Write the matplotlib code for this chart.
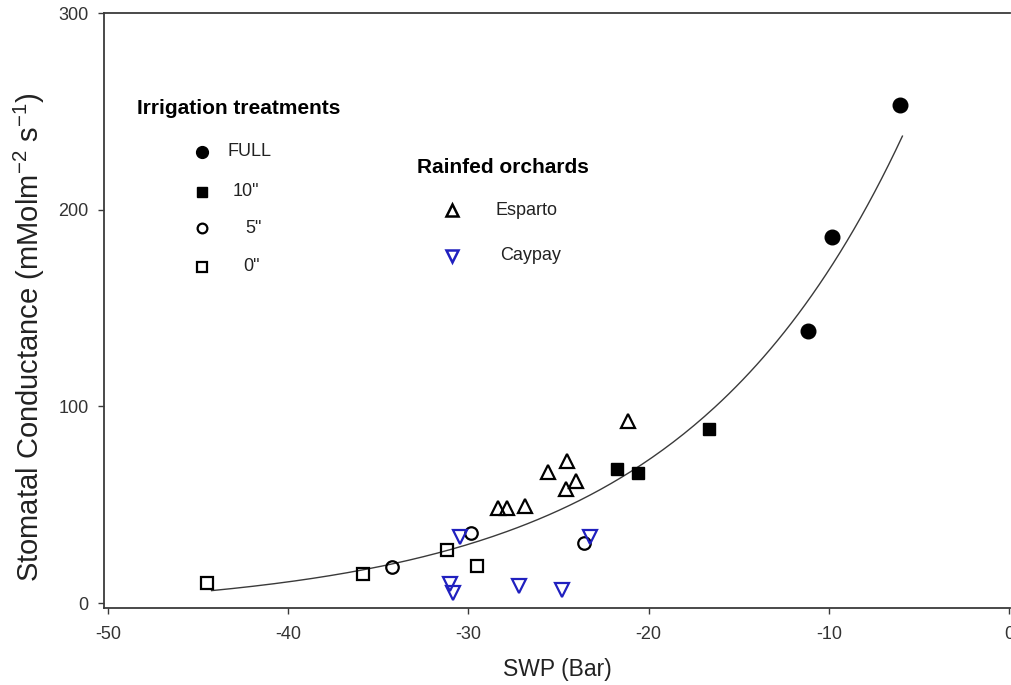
import numpy as np
import matplotlib
matplotlib.use("Agg")
import matplotlib.pyplot as plt

plt.rcParams["font.family"] = ["Liberation Sans", "DejaVu Sans"]
plt.rcParams["mathtext.fontset"] = "custom"
plt.rcParams["mathtext.rm"] = "Liberation Sans"
plt.rcParams["mathtext.it"] = "Liberation Sans:italic"
plt.rcParams["axes.unicode_minus"] = False

# Irrigation treatments (SWP in bar, conductance in mMol m-2 s-1)
full_swp = [-6.05, -9.81, -11.15]
full_gs = [253.2, 186.1, 138.3]

ten_swp = [-21.77, -20.57, -16.63]
ten_gs = [68.0, 65.9, 88.5]

five_swp = [-34.26, -29.87, -23.59]
five_gs = [18.5, 35.7, 30.3]

zero_swp = [-44.52, -35.87, -31.2, -29.54]
zero_gs = [10.0, 14.6, 26.9, 19.0]

# Rainfed orchards
esparto_swp = [-28.34, -27.87, -26.86, -25.57, -24.51, -24.58, -24.03, -21.13]
esparto_gs = [48.1, 48.1, 49.4, 66.5, 72.4, 58.0, 62.2, 92.7]

caypay_swp = [-30.47, -31.02, -30.84, -27.19, -24.79, -23.25]
caypay_gs = [33.7, 9.7, 4.9, 8.6, 6.6, 33.4]

# regression curve y = a*exp(b*x) + c, as drawn
fit_a = 390.8
fit_b = 0.081
fit_c = -4.55
fit_range = (-44.25, -5.92)

x_ticks = [-50, -40, -30, -20, -10, 0]
y_ticks = [0, 100, 200, 300]

BLUE = "#2020bf"
DARK = "#3a3a3a"


def main():
    fig = plt.figure(figsize=(10.11, 6.85), dpi=100)
    ax = fig.add_axes([104 / 1011, 77 / 685, 906 / 1011, 595 / 685])

    # fitted curve
    xs = np.linspace(fit_range[0], fit_range[1], 200)
    ax.plot(xs, fit_a * np.exp(fit_b * xs) + fit_c, color=DARK, lw=1.0, zorder=1)

    ax.plot(full_swp, full_gs, "o", color="black", ms=10.5, zorder=3)
    ax.plot(ten_swp, ten_gs, "s", color="black", ms=9, zorder=3)
    ax.plot(five_swp, five_gs, "o", mfc="none", mec="black", mew=1.6, ms=9, zorder=3)
    ax.plot(zero_swp, zero_gs, "s", mfc="none", mec="black", mew=1.6, ms=9, zorder=3)
    ax.plot(esparto_swp, esparto_gs, "^", mfc="none", mec="black", mew=1.6, ms=10, zorder=3)
    ax.plot(caypay_swp, caypay_gs, "v", mfc="none", mec=BLUE, mew=1.6, ms=10, zorder=3)

    ax.set_xlim(-50.22, 0.05)
    ax.set_ylim(-2.54, 300)
    ax.set_xticks(x_ticks)
    ax.set_yticks(y_ticks)
    ax.tick_params(direction="out", length=4, width=1, color=DARK,
                   labelsize=13, labelcolor="#333333")
    ax.tick_params(axis="x", pad=9)
    ax.tick_params(axis="y", pad=7)

    for side in ["left", "bottom", "top"]:
        ax.spines[side].set_color(DARK)
        ax.spines[side].set_linewidth(1.3)
    ax.spines["right"].set_visible(False)

    ax.set_xlabel("SWP (Bar)", fontsize=16.5, labelpad=11, color="#222222")
    ax.set_ylabel(r"Stomatal Conductance (mMolm$^{\mathrm{-2}}$ s$^{\mathrm{-1}}$)",
                  fontsize=21, color="#222222")
    ax.yaxis.set_label_coords(-0.063, 0.4555)

    # legend: irrigation treatments
    tr = ax.transAxes
    ax.text(0.0364, 0.8403, "Irrigation treatments", transform=tr,
            fontsize=15, fontweight="bold", va="center", ha="left")
    ax.plot([0.1082], [0.7664], "o", color="black", ms=8.5, transform=tr, clip_on=False)
    ax.plot([0.1082], [0.6997], "s", color="black", ms=7, transform=tr, clip_on=False)
    ax.plot([0.1082], [0.6382], "o", mfc="none", mec="black", mew=1.6, ms=7,
            transform=tr, clip_on=False)
    ax.plot([0.1082], [0.5736], "s", mfc="none", mec="black", mew=1.6, ms=7.5,
            transform=tr, clip_on=False)
    ax.text(0.1358, 0.7664, "FULL", transform=tr, fontsize=13, va="center", color="#222222")
    ax.text(0.1424, 0.6997, '10"', transform=tr, fontsize=13, va="center", color="#222222")
    ax.text(0.1556, 0.6382, '5"', transform=tr, fontsize=13, va="center", color="#222222")
    ax.text(0.1534, 0.5736, '0"', transform=tr, fontsize=13, va="center", color="#222222")

    # legend: rainfed orchards
    ax.text(0.3455, 0.7395, "Rainfed orchards", transform=tr,
            fontsize=15, fontweight="bold", va="center", ha="left")
    ax.plot([0.3841], [0.6689], "^", mfc="none", mec="black", mew=1.8, ms=8,
            transform=tr, clip_on=False)
    ax.plot([0.3841], [0.5916], "v", mfc="none", mec=BLUE, mew=1.8, ms=8,
            transform=tr, clip_on=False)
    ax.text(0.4316, 0.6689, "Esparto", transform=tr, fontsize=13, va="center", color="#222222")
    ax.text(0.4371, 0.5916, "Caypay", transform=tr, fontsize=13, va="center", color="#222222")

    fig.savefig("out.png", dpi=100)
    plt.close(fig)


if __name__ == "__main__":
    main()
